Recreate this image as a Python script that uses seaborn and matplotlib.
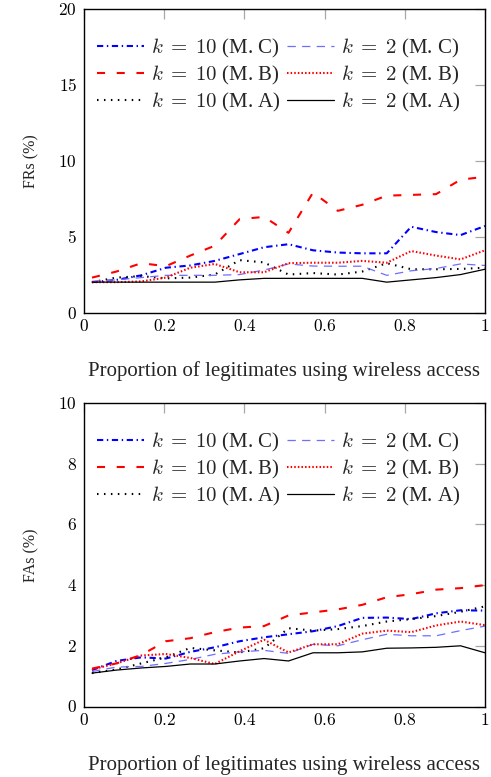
import matplotlib
matplotlib.use("Agg")
import matplotlib.pyplot as plt
import seaborn as sns
import pandas as pd

# ---------------- data ----------------
x = [0.02, 0.081, 0.143, 0.204, 0.265, 0.326, 0.388, 0.449, 0.51,
     0.571, 0.633, 0.694, 0.755, 0.816, 0.878, 0.939, 1.0]

fr_k10_c = [2.0, 2.15, 2.45, 2.95, 3.1, 3.4, 3.85, 4.3, 4.5, 4.1, 3.95, 3.9, 3.9, 5.65, 5.3, 5.1, 5.7]
fr_k2_c = [2.05, 2.15, 2.3, 2.45, 2.45, 2.45, 2.5, 2.8, 3.2, 3.06, 3.05, 3.05, 2.45, 2.75, 2.9, 3.2, 3.1]
fr_k10_b = [2.3, 2.7, 3.25, 3.05, 3.75, 4.4, 6.15, 6.3, 5.25, 7.9, 6.7, 7.1, 7.7, 7.75, 7.8, 8.75, 8.95]
fr_k2_b = [2.0, 2.0, 2.05, 2.3, 2.95, 3.2, 2.65, 2.65, 3.25, 3.28, 3.28, 3.4, 3.28, 4.05, 3.75, 3.5, 4.1]
fr_k10_a = [2.0, 2.3, 2.4, 2.25, 2.3, 2.5, 3.45, 3.3, 2.5, 2.6, 2.5, 2.7, 3.25, 2.85, 2.85, 2.87, 2.95]
fr_k2_a = [2.0, 2.0, 2.0, 2.0, 2.0, 2.0, 2.15, 2.25, 2.25, 2.25, 2.25, 2.25, 2.0, 2.15, 2.3, 2.5, 2.85]

fa_k10_c = [1.2, 1.5, 1.62, 1.58, 1.8, 1.95, 2.15, 2.28, 2.38, 2.48, 2.65, 2.92, 2.93, 2.88, 3.07, 3.17, 3.16]
fa_k2_c = [1.15, 1.3, 1.32, 1.42, 1.55, 1.72, 1.8, 1.85, 1.75, 2.05, 2.0, 2.2, 2.38, 2.33, 2.33, 2.5, 2.65]
fa_k10_b = [1.25, 1.42, 1.7, 2.15, 2.25, 2.45, 2.6, 2.65, 3.0, 3.1, 3.2, 3.35, 3.6, 3.7, 3.85, 3.9, 4.0]
fa_k2_b = [1.22, 1.42, 1.68, 1.73, 1.6, 1.4, 1.82, 2.2, 1.78, 2.05, 2.05, 2.4, 2.5, 2.45, 2.67, 2.8, 2.68]
fa_k10_a = [1.1, 1.22, 1.42, 1.62, 1.93, 1.85, 1.78, 1.92, 2.58, 2.5, 2.55, 2.65, 2.8, 2.88, 2.98, 3.12, 3.3]
fa_k2_a = [1.1, 1.2, 1.27, 1.32, 1.4, 1.4, 1.5, 1.58, 1.5, 1.77, 1.77, 1.8, 1.92, 1.93, 1.95, 2.0, 1.77]

series_labels = [r"$k\;=\;10$ (M. C)", r"$k\;=\;10$ (M. B)", r"$k\;=\;10$ (M. A)",
                 r"$k\;=\;2$ (M. C)", r"$k\;=\;2$ (M. B)", r"$k\;=\;2$ (M. A)"]
fr_values = [fr_k10_c, fr_k10_b, fr_k10_a, fr_k2_c, fr_k2_b, fr_k2_a]
fa_values = [fa_k10_c, fa_k10_b, fa_k10_a, fa_k2_c, fa_k2_b, fa_k2_a]

x_ticks = [0, 0.2, 0.4, 0.6, 0.8, 1]
x_tick_labels = ["0", "0.2", "0.4", "0.6", "0.8", "1"]
fr_ticks = [0, 5, 10, 15, 20]
fa_ticks = [0, 2, 4, 6, 8, 10]
x_label = "Proportion of legitimates using wireless access"

# ---------------- styles ----------------
styles = [
    dict(color="#0000ff", lw=1.5, ls=(0, (4.5, 2.6, 1.0, 2.6))),
    dict(color="#ff0000", lw=1.5, ls=(0, (5.8, 8.4))),
    dict(color="#000000", lw=1.5, ls=(0, (1.1, 3.9))),
    dict(color="#6f6fff", lw=0.9, ls=(0, (6.0, 4.5))),
    dict(color="#ff0000", lw=1.5, ls=(0, (1.1, 1.5))),
    dict(color="#000000", lw=0.9, ls="-"),
]

sns.set_style("white")
plt.rcParams["font.family"] = ["Liberation Serif", "DejaVu Serif"]
plt.rcParams["mathtext.fontset"] = "cm"
plt.rcParams["lines.scale_dashes"] = False

FS = 15

W, H = 491, 777
fig = plt.figure(figsize=(W / 100, H / 100), dpi=100)
ax_top = fig.add_axes([84 / W, 1 - 312.5 / H, 401 / W, 303.5 / H])
ax_bot = fig.add_axes([84 / W, 1 - 706.5 / H, 401 / W, 303.5 / H])


def draw(ax, values, ymax, yticks, ylabel):
    for lab, vals, st in zip(series_labels, values, styles):
        df = pd.DataFrame({"x": x, "y": vals})
        sns.lineplot(data=df, x="x", y="y", ax=ax, color=st["color"],
                     linewidth=st["lw"], linestyle=st["ls"], label=lab,
                     errorbar=None, legend=False)
    ax.set_xlim(0, 1)
    ax.set_ylim(0, ymax)
    ax.set_xticks(x_ticks)
    ax.set_xticklabels(["$%s$" % t for t in x_tick_labels])
    ax.set_yticks(yticks)
    ax.set_yticklabels(["$%d$" % t for t in yticks])
    ax.tick_params(direction="in", length=7, width=0.9, color="#a8a8a8",
                   top=True, right=True, labelsize=12.5, labelcolor="black",
                   pad=5)
    for sp in ax.spines.values():
        sp.set_color("black")
        sp.set_linewidth(1.0)
    ax.set_xlabel(x_label, fontsize=FS)
    ax.xaxis.set_label_coords(0.5, -0.16)
    ax.set_ylabel(ylabel, fontsize=11.5)
    ax.yaxis.set_label_coords(-0.112, 0.5)
    handles = ax.get_lines()[:6]
    ax.legend(handles=handles, labels=series_labels, ncol=2, frameon=False,
              loc="upper left", bbox_to_anchor=(0.033, 0.909),
              borderaxespad=0.0, borderpad=0.0, fontsize=FS,
              handlelength=2.25, handletextpad=0.33, columnspacing=0.33,
              labelspacing=0.2)


draw(ax_top, fr_values, 20, fr_ticks, "FRs (%)")
draw(ax_bot, fa_values, 10, fa_ticks, "FAs (%)")

fig.savefig("out.png", dpi=100)
